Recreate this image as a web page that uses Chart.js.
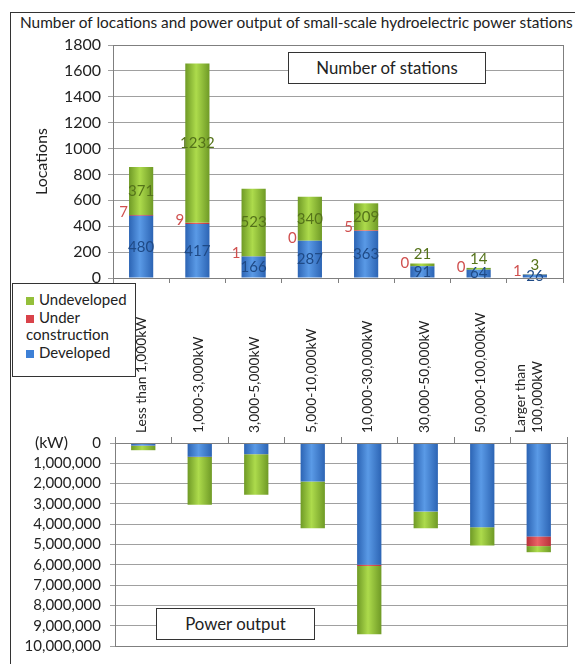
<!DOCTYPE html>
<html>
<head>
<meta charset="utf-8">
<script src="https://cdn.jsdelivr.net/npm/chart.js@4"></script>
<style>
  body { margin: 0; width: 575px; height: 664px; position: relative; background: #fff; overflow: hidden; font-family: Lato, sans-serif; color: #222; }
  canvas { position: absolute; left: 0; top: 0; }
  #frame { position: absolute; left: 10px; top: 12px; width: 580px; height: 670px; border: 1px solid #333; }
  #title { position: absolute; left: 20px; top: 13px; font-size: 15.4px; white-space: nowrap; }
  .box { position: absolute; background: #fff; border: 1px solid #333; font-size: 16.8px; text-align: center; box-sizing: border-box; }
  #stationsBox { left: 288px; top: 52px; width: 198px; height: 32px; line-height: 30px; }
  #outputBox { left: 156px; top: 608px; width: 159px; height: 32px; line-height: 30px; }
  #legend { position: absolute; left: 12px; top: 283px; width: 124px; height: 94px; border: 1px solid #333; background: #fff; box-sizing: border-box; padding: 7px 4px 0 13px; font-size: 15px; line-height: 17.5px; }
  #legend .sw { display: inline-block; width: 8px; height: 8px; margin-right: 5px; }
  #kwLabel { position: absolute; left: 35px; top: 432px; font-size: 16px; }
</style>
</head>
<body>
<div id="frame"></div>
<div id="title">Number of locations and power output of small-scale hydroelectric power stations</div>
<canvas id="stationsChart" width="575" height="664"></canvas>
<canvas id="outputChart" width="575" height="664"></canvas>
<div class="box" id="stationsBox">Number of stations</div>
<div class="box" id="outputBox">Power output</div>
<div id="legend"></div>
<div id="kwLabel">(kW)</div>

<script>
// categories (output classes)
const categories = [
  "Less than 1,000kW", "1,000-3,000kW", "3,000-5,000kW", "5,000-10,000kW",
  "10,000-30,000kW", "30,000-50,000kW", "50,000-100,000kW", ["Larger than", "100,000kW"]
];
const seriesNames = ["Developed", "Under construction", "Undeveloped"];

// number of stations
const stationsDeveloped = [480, 417, 166, 287, 363, 91, 64, 26];
const stationsUnderConstruction = [7, 9, 1, 0, 5, 0, 0, 1];
const stationsUndeveloped = [371, 1232, 523, 340, 209, 21, 14, 3];

// power output (kW)
const outputDeveloped = [130000, 680000, 550000, 1900000, 6000000, 3380000, 4150000, 4600000];
const outputUnderConstruction = [5000, 15000, 3000, 0, 60000, 0, 0, 480000];
const outputUndeveloped = [220000, 2350000, 2000000, 2300000, 3360000, 820000, 900000, 300000];

const BAR_PCT = 0.43;
const colors = [
  { mid: "#3d80d6", light: "#5a9ae6", edge: "#2c64b4", text: "#1f4a86" },
  { mid: "#d9434a", light: "#ea6266", edge: "#b8323a", text: "#d0504f" },
  { mid: "#94bf3a", light: "#addb4c", edge: "#6f9a26", text: "#55731a" }
];

Chart.defaults.font.family = "Lato, sans-serif";
Chart.defaults.color = "#222";
Chart.defaults.animation = false;

// horizontal gradient per bar, gives the rounded look of the original
function barFill(c) {
  return (ctx) => {
    const x = ctx.chart.scales.x;
    if (!x || ctx.dataIndex === undefined) return c.mid;
    const cx = x.getPixelForValue(ctx.dataIndex);
    const w = x.width / categories.length * BAR_PCT;
    if (!isFinite(cx) || !isFinite(w) || w <= 0) return c.mid;
    const g = ctx.chart.ctx.createLinearGradient(cx - w / 2, 0, cx + w / 2, 0);
    g.addColorStop(0, c.edge);
    g.addColorStop(0.45, c.light);
    g.addColorStop(1, c.edge);
    return g;
  };
}

function makeDatasets(values) {
  return values.map((data, i) => ({
    label: seriesNames[i],
    data: data,
    backgroundColor: barFill(colors[i]),
    borderWidth: 0,
    categoryPercentage: 1,
    barPercentage: BAR_PCT
  }));
}

const frame = {
  id: "frame",
  afterDraw(chart) {
    const { ctx, chartArea: a } = chart;
    ctx.save();
    ctx.strokeStyle = "#7f7f7f";
    ctx.lineWidth = 1;
    ctx.strokeRect(Math.round(a.left) + 0.5, Math.round(a.top) + 0.5, Math.round(a.width), Math.round(a.height));
    ctx.restore();
  }
};

// value labels for the stations panel
const stationLabels = {
  id: "stationLabels",
  afterDatasetsDraw(chart) {
    const { ctx } = chart;
    ctx.save();
    ctx.font = "15px Lato, sans-serif";
    ctx.textBaseline = "middle";
    chart.data.datasets.forEach((ds, di) => {
      chart.getDatasetMeta(di).data.forEach((bar, i) => {
        const p = bar.getProps(["x", "y", "base", "width"], true);
        const txt = String(ds.data[i]);
        ctx.fillStyle = colors[di].text;
        if (di === 1) {
          ctx.textAlign = "right";
          ctx.fillText(txt, p.x - p.width / 2 - 1, p.y - 3);
        } else {
          ctx.textAlign = "center";
          const h = p.base - p.y;
          let y = (p.y + p.base) / 2;
          if (di === 2 && h < 16) y = p.y - 9;
          ctx.fillText(txt, p.x, y);
        }
      });
    });
    ctx.restore();
  }
};

new Chart(document.getElementById("stationsChart"), {
  type: "bar",
  data: {
    labels: categories,
    datasets: makeDatasets([stationsDeveloped, stationsUnderConstruction, stationsUndeveloped])
  },
  options: {
    responsive: false,
    layout: { padding: { left: 30, top: 45, right: 12, bottom: 376 } },
    plugins: { legend: { display: false }, tooltip: { enabled: false } },
    scales: {
      x: {
        stacked: true,
        ticks: { display: false },
        grid: { offset: true, drawOnChartArea: false, tickLength: 5, color: "#7f7f7f" },
        border: { color: "#7f7f7f" },
        afterFit: (s) => { s.height = 10; }
      },
      y: {
        stacked: true,
        min: 0,
        max: 1800,
        ticks: { stepSize: 200, font: { size: 16 }, padding: 7, color: "#222", callback: (v) => String(v) },
        grid: { color: "#a0a0a0", tickLength: 5 },
        border: { color: "#7f7f7f" },
        title: { display: true, text: "Locations", font: { size: 16 }, color: "#222", padding: 2 },
        afterFit: (s) => { s.width = 83; }
      }
    }
  },
  plugins: [frame, stationLabels]
});

new Chart(document.getElementById("outputChart"), {
  type: "bar",
  data: {
    labels: categories,
    datasets: makeDatasets([outputDeveloped, outputUnderConstruction, outputUndeveloped])
  },
  options: {
    responsive: false,
    layout: { padding: { left: 10, top: 300, right: 8, bottom: 14 } },
    plugins: { legend: { display: false }, tooltip: { enabled: false } },
    scales: {
      x: {
        position: "top",
        stacked: true,
        ticks: {
          minRotation: 90, maxRotation: 90, autoSkip: false,
          font: { size: 13.8 }, padding: 4, labelOffset: 15, color: "#222"
        },
        grid: { offset: true, drawOnChartArea: false, tickLength: 6, color: "#7f7f7f" },
        border: { color: "#a0a0a0" },
        afterFit: (s) => { s.height = 143; }
      },
      y: {
        stacked: true,
        reverse: true,
        min: 0,
        max: 10000000,
        ticks: {
          stepSize: 1000000,
          autoSkip: false,
          font: { size: 15 },
          padding: 9,
          color: "#222",
          callback: (v) => v.toLocaleString("en-US")
        },
        grid: { color: "#a0a0a0", tickLength: 5 },
        border: { color: "#7f7f7f" },
        afterFit: (s) => { s.width = 105; }
      }
    }
  },
  plugins: [frame]
});

// legend, top entry first like the original
const legend = document.getElementById("legend");
legend.innerHTML = seriesNames.map((name, i) =>
  `<div><span class="sw" style="background:${colors[i].mid}"></span>${name}</div>`
).reverse().join("");
</script>
</body>
</html>
